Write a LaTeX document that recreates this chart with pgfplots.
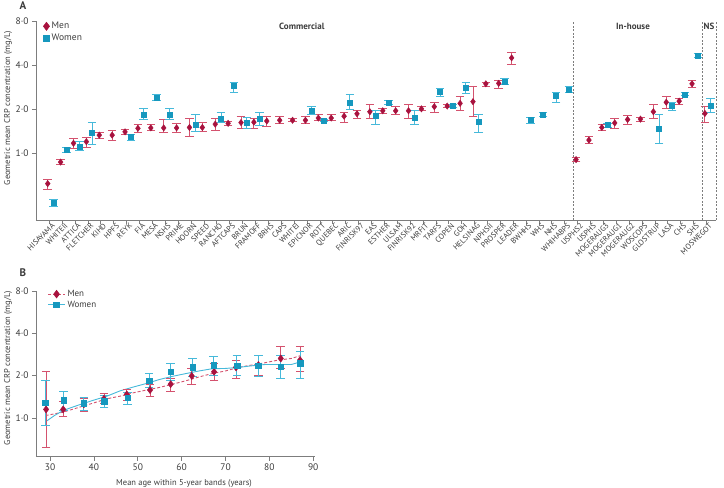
\documentclass[border=0pt]{standalone}
\usepackage{fontspec}
\setmainfont{PT Sans}
\usepackage{pgfplots}
\pgfplotsset{compat=1.18}
\usepackage{pgfplotstable}

\definecolor{menmk}{RGB}{168,18,62}
\definecolor{menbar}{RGB}{212,82,110}
\definecolor{wommk}{RGB}{22,152,190}
\definecolor{wombar}{RGB}{70,185,218}
\definecolor{axg}{RGB}{125,125,125}
\definecolor{txt}{RGB}{60,60,60}

% Panel A: men (index, estimate, lower, upper)
\pgfplotstableread{
i y lo hi
0 0.62 0.57 0.665
1 0.87 0.84 0.90
2 1.17 1.07 1.26
3 1.20 1.10 1.29
4 1.33 1.26 1.39
5 1.33 1.22 1.43
6 1.40 1.35 1.45
7 1.48 1.38 1.57
8 1.49 1.42 1.57
9 1.49 1.38 1.69
10 1.49 1.38 1.60
11 1.50 1.30 1.72
12 1.50 1.41 1.62
13 1.58 1.44 1.72
14 1.60 1.54 1.65
15 1.62 1.48 1.78
16 1.63 1.48 1.72
17 1.66 1.52 1.77
18 1.68 1.59 1.77
19 1.68 1.64 1.73
20 1.68 1.59 1.78
21 1.74 1.67 1.83
22 1.74 1.67 1.83
23 1.79 1.63 1.91
24 1.86 1.74 1.97
25 1.92 1.73 2.15
26 1.95 1.86 2.03
27 1.95 1.84 2.08
28 1.95 1.73 2.15
29 2.01 1.95 2.08
30 2.08 1.91 2.24
31 2.10 2.05 2.15
32 2.19 1.96 2.46
33 2.25 1.77 2.84
34 2.98 2.87 3.06
35 3.00 2.78 3.15
36 4.48 4.06 4.90
41 0.905 0.873 0.94
42 1.23 1.17 1.30
43 1.50 1.43 1.58
44 1.61 1.47 1.72
45 1.70 1.58 1.80
46 1.71 1.66 1.76
47 1.92 1.72 2.15
48 2.23 2.03 2.43
49 2.27 2.16 2.37
50 2.98 2.81 3.12
51 1.87 1.63 2.08
}\menA

% Panel A: women
\pgfplotstableread{
i y lo hi
0 0.46 0.43 0.486
1 1.05 1.01 1.09
2 1.11 1.04 1.21
3 1.38 1.14 1.63
6 1.29 1.22 1.35
7 1.84 1.69 2.01
8 2.39 2.28 2.52
9 1.84 1.69 2.01
11 1.57 1.40 1.84
13 1.73 1.62 1.89
14 2.87 2.59 3.06
15 1.62 1.48 1.76
16 1.71 1.56 1.89
20 1.96 1.85 2.10
21 1.67 1.64 1.71
23 2.23 1.99 2.53
25 1.80 1.58 1.96
26 2.23 2.16 2.30
28 1.75 1.58 1.96
30 2.63 2.43 2.78
31 2.10 2.05 2.15
32 2.80 2.55 3.06
33 1.63 1.38 1.83
35 3.07 2.95 3.24
37 1.69 1.60 1.76
38 1.84 1.79 1.90
39 2.46 2.22 2.61
40 2.73 2.60 2.86
43 1.56 1.50 1.61
47 1.47 1.17 1.83
48 2.12 1.96 2.23
49 2.53 2.47 2.61
50 4.65 4.51 4.79
51 2.10 1.90 2.37
}\womA

% Panel B: men by age band
\pgfplotstableread{
x y lo hi
29.1 1.15 0.615 2.15
33.0 1.15 1.03 1.32
37.7 1.25 1.12 1.37
42.3 1.37 1.27 1.49
47.5 1.47 1.34 1.60
52.8 1.58 1.43 1.74
57.5 1.74 1.55 1.91
62.3 1.99 1.73 2.25
67.4 2.13 1.86 2.44
72.4 2.29 1.91 2.58
77.5 2.38 2.02 2.80
82.6 2.65 2.25 3.21
87.0 2.58 2.13 3.21
}\menB

\pgfplotstableread{
x y lo hi
28.9 1.28 0.88 1.86
33.1 1.34 1.13 1.55
37.7 1.27 1.13 1.41
42.3 1.32 1.18 1.45
47.7 1.39 1.25 1.53
52.6 1.84 1.65 2.07
57.5 2.13 1.86 2.44
62.5 2.29 1.96 2.65
67.3 2.38 2.02 2.72
72.6 2.35 2.02 2.80
77.5 2.35 1.96 2.80
82.6 2.31 1.91 2.80
87.0 2.44 1.91 2.95
}\womB

% Panel B fitted curves
\pgfplotstableread{
x y
29 1.04
33 1.10
37 1.20
40 1.28
43 1.37
46 1.43
49 1.51
52 1.58
55 1.65
58 1.74
61 1.84
64 1.96
67 2.07
70 2.16
73 2.29
76 2.38
79 2.47
82 2.58
85 2.65
87 2.77
}\menfit

\pgfplotstableread{
x y
29 0.94
31 1.04
33 1.13
35 1.19
37 1.25
40 1.34
43 1.43
46 1.56
49 1.66
52 1.76
55 1.88
58 1.98
61 2.07
64 2.16
67 2.24
70 2.25
73 2.29
76 2.35
79 2.40
82 2.40
85 2.40
87 2.50
}\womfit

\begin{document}
\begin{tikzpicture}
\useasboundingbox (-36pt,21pt) rectangle (688pt,-467pt);

\begin{axis}[
  name=A, at={(0pt,0pt)}, anchor=north west,
  scale only axis, clip=false,
  width=680pt, height=199pt,
  ymode=log, log basis y=2,
  xmin=-1.03, xmax=51.74, ymin=0.35, ymax=8,
  axis x line*=bottom, axis y line*=left,
  axis line style={axg, line width=0.7pt},
  tick style={axg, line width=0.7pt},
  tick align=outside, major tick length=4pt,
  minor tick num=0,
  ytick={1,2,4,8}, yticklabels={1·0,2·0,4·0,8·0},
  y tick label style={font=\fontsize{9.5}{10}\selectfont, text=txt},
  xtick={0,...,51},
  xticklabels={HISAYAMA,WHITEII,ATTICA,FLETCHER,KIHD,HPFS,REYK,FIA,MESA,NSHS,PRIME,HOORN,SPEED,RANCHO,AFTCAPS,BRUN,FRAMOFF,BRHS,CAPS,WHITEI,EPICNOR,ROTT,QUEBEC,ARIC,FINRISK97,EAS,ESTHER,ULSAM,FINRISK92,MRFIT,TARFS,COPEN,GOH,HELSINAG,NPHSII,PROSPER,LEADER,BWHHS,WHS,NHS,WHIHABPS,USPHS2,USPHS,MOGERAUG3,MOGERAUG1,MOGERAUG2,WOSCOPS,GLOSTRUP,LASA,CHS,SHS,MOSWEGOT},
  x tick label style={rotate=45, anchor=north east, font=\fontsize{7.8}{8}\selectfont, text=txt, inner sep=0.3pt, xshift=3pt},
  legend style={at={(0.006,1.015)}, anchor=north west, draw=none, fill=none,
    font=\fontsize{9.5}{10}\selectfont, text=txt, row sep=-0.5pt},
  legend cell align=left,
]
\addlegendimage{only marks, mark=diamond*, mark size=4.2pt, color=menmk}
\addlegendentry{Men}
\addlegendimage{only marks, mark=square*, mark size=3.2pt, color=wommk}
\addlegendentry{Women}
\addplot[forget plot, only marks, mark=diamond*, mark size=3.2pt, color=menmk,
  error bars/.cd, y dir=both, y explicit,
  error bar style={menbar, line width=0.9pt},
  error mark options={rotate=90, menbar, line width=0.9pt, mark size=4.3pt}]
  table[x expr=\thisrow{i}-0.12, y=y,
        y error plus expr=\thisrow{hi}-\thisrow{y},
        y error minus expr=\thisrow{y}-\thisrow{lo}] {\menA};
\addplot[forget plot, only marks, mark=square*, mark size=2.5pt, color=wommk,
  error bars/.cd, y dir=both, y explicit,
  error bar style={wombar, line width=0.9pt},
  error mark options={rotate=90, wombar, line width=0.9pt, mark size=4.3pt}]
  table[x expr=\thisrow{i}+0.33, y=y,
        y error plus expr=\thisrow{hi}-\thisrow{y},
        y error minus expr=\thisrow{y}-\thisrow{lo}] {\womA};
\draw[axg, line width=0.6pt, dash pattern=on 2pt off 1.5pt] (axis cs:40.65,0.35) -- (axis cs:40.65,8);
\draw[axg, line width=0.6pt, dash pattern=on 2pt off 1.5pt] (axis cs:50.65,0.35) -- (axis cs:50.65,8);
\draw[axg, line width=0.6pt, dash pattern=on 2pt off 1.5pt] (axis cs:51.74,0.35) -- (axis cs:51.74,8);
\node[font=\fontsize{9}{10}\selectfont\bfseries, text=txt] at (axis cs:19.6,7.3) {Commercial};
\node[font=\fontsize{9}{10}\selectfont\bfseries, text=txt] at (axis cs:45.3,7.3) {In-house};
\node[font=\fontsize{9}{10}\selectfont\bfseries, text=txt] at (axis cs:51.2,7.3) {NS};
\end{axis}

\begin{axis}[
  name=B, at={(0pt,-270pt)}, anchor=north west,
  scale only axis, clip=false,
  width=279pt, height=165.7pt,
  ymode=log, log basis y=2,
  xmin=26.8, xmax=90.4, ymin=0.53, ymax=8,
  axis x line*=bottom, axis y line*=left,
  axis line style={axg, line width=0.7pt},
  tick style={axg, line width=0.7pt},
  tick align=outside, major tick length=4pt,
  minor tick num=0,
  ytick={1,2,4,8}, yticklabels={1·0,2·0,4·0,8·0},
  y tick label style={font=\fontsize{9.5}{10}\selectfont, text=txt},
  xtick={30,40,50,60,70,80,90}, xticklabels={30,40,50,60,70,80,90},
  x tick label style={font=\fontsize{9.5}{10}\selectfont, text=txt},
  legend style={at={(0.03,1.03)}, anchor=north west, draw=none, fill=none,
    font=\fontsize{9}{10}\selectfont, text=txt, row sep=-1pt},
  legend cell align=left,
]
\addlegendimage{menbar, line width=0.9pt, dash pattern=on 3pt off 2pt, mark=diamond*, mark options={solid, menmk, mark size=3.6pt}}
\addlegendentry{Men}
\addlegendimage{wombar, line width=0.9pt, mark=square*, mark options={solid, wommk, mark size=2.8pt}}
\addlegendentry{Women}
\addplot[forget plot, menbar, line width=0.9pt, dash pattern=on 3pt off 2pt] table[x=x,y=y] {\menfit};
\addplot[forget plot, wombar, line width=0.9pt] table[x=x,y=y] {\womfit};
\addplot[forget plot, only marks, mark=diamond*, mark size=3.6pt, color=menmk,
  error bars/.cd, y dir=both, y explicit,
  error bar style={menbar, line width=0.9pt},
  error mark options={rotate=90, menbar, line width=0.9pt, mark size=4.3pt}]
  table[x=x, y=y,
        y error plus expr=\thisrow{hi}-\thisrow{y},
        y error minus expr=\thisrow{y}-\thisrow{lo}] {\menB};
\addplot[forget plot, only marks, mark=square*, mark size=2.8pt, color=wommk,
  error bars/.cd, y dir=both, y explicit,
  error bar style={wombar, line width=0.9pt},
  error mark options={rotate=90, wombar, line width=0.9pt, mark size=4.3pt}]
  table[x=x, y=y,
        y error plus expr=\thisrow{hi}-\thisrow{y},
        y error minus expr=\thisrow{y}-\thisrow{lo}] {\womB};
\end{axis}

\node[font=\fontsize{11}{12}\selectfont\bfseries, text=txt] at (-13pt,15pt) {A};
\node[font=\fontsize{11}{12}\selectfont\bfseries, text=txt] at (-13pt,-252pt) {B};
\node[rotate=90, font=\fontsize{8.5}{10}\selectfont, text=txt] at (-28pt,-87pt) {Geometric mean CRP concentration (mg/L)};
\node[rotate=90, font=\fontsize{8.5}{10}\selectfont, text=txt] at (-28pt,-347pt) {Geometric mean CRP concentration (mg/L)};
\node[font=\fontsize{8.5}{10}\selectfont, text=txt] at (148pt,-462pt) {Mean age within 5-year bands (years)};
\end{tikzpicture}
\end{document}
